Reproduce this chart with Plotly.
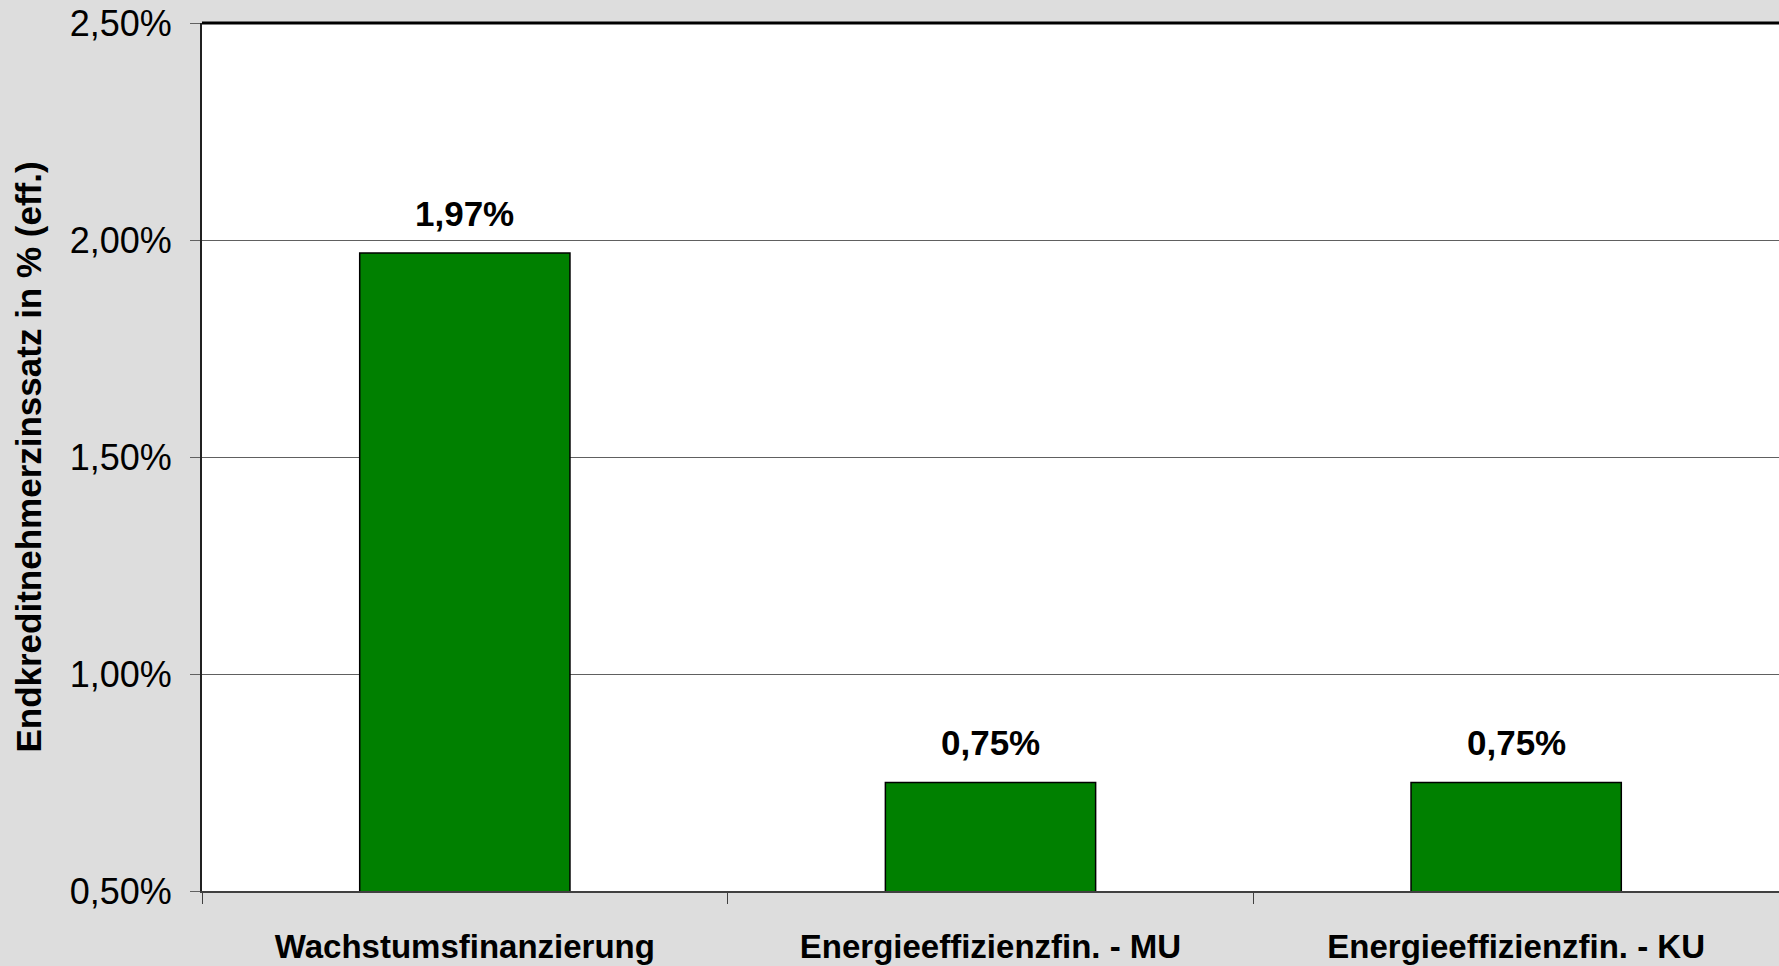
import plotly.graph_objects as go

categories = ["Wachstumsfinanzierung", "Energieeffizienzfin. - MU", "Energieeffizienzfin. - KU"]
zinssatz = [1.97, 0.75, 0.75]
y_ticks = [0.5, 1.0, 1.5, 2.0, 2.5]
y_title = "Endkreditnehmerzinssatz in % (eff.)"

font_name = "Liberation Sans, Arial, sans-serif"


def pct(v):
    return "{:.2f}%".format(v).replace(".", ",")


fig = go.Figure()
fig.add_trace(go.Bar(
    x=categories, y=zinssatz,
    width=0.4,
    marker=dict(color="#008000", line=dict(color="black", width=1.5)),
    hoverinfo="skip"))

# Datenbeschriftungen ueber den Balken
for c, v in zip(categories, zinssatz):
    fig.add_annotation(x=c, y=v, text="<b>" + pct(v) + "</b>", showarrow=False,
                       yanchor="middle", yshift=40,
                       font=dict(family=font_name, size=35, color="black"))

fig.update_layout(
    width=1779, height=966,
    margin=dict(l=202, r=0, t=23, b=75),
    plot_bgcolor="white",
    paper_bgcolor="#dddddd",
    showlegend=False,
    separators=",.",
    font=dict(family=font_name, size=36, color="black"))

fig.update_xaxes(
    tickson="boundaries", ticks="outside", ticklen=11, tickcolor="#404040", tickwidth=1,
    showline=True, linecolor="#404040", linewidth=2,
    tickfont=dict(family=font_name, size=33, color="black"),
    ticktext=["<b>" + c + "</b>" for c in categories], tickvals=categories,
    ticklabelstandoff=25, showgrid=False)

fig.update_yaxes(
    range=[0.5, 2.5], tickvals=y_ticks, ticktext=[pct(t) for t in y_ticks],
    ticks="outside", ticklen=10, tickcolor="#606060",
    showline=True, linecolor="#202020", linewidth=2, mirror=False,
    showgrid=True, gridcolor="#606060", gridwidth=1,
    tickfont=dict(family=font_name, size=36, color="black"),
    ticklabelstandoff=11,
    title=dict(text="<b>" + y_title + "</b>", standoff=17,
               font=dict(family=font_name, size=35, color="black")),
    zeroline=False)

# dicke obere Linie
fig.add_shape(type="line", xref="paper", yref="paper", x0=0, x1=1, y0=1, y1=1,
              line=dict(color="black", width=3))

fig.write_html("out.html", config={"displayModeBar": False},
               post_script="document.body.style.margin='0';")
